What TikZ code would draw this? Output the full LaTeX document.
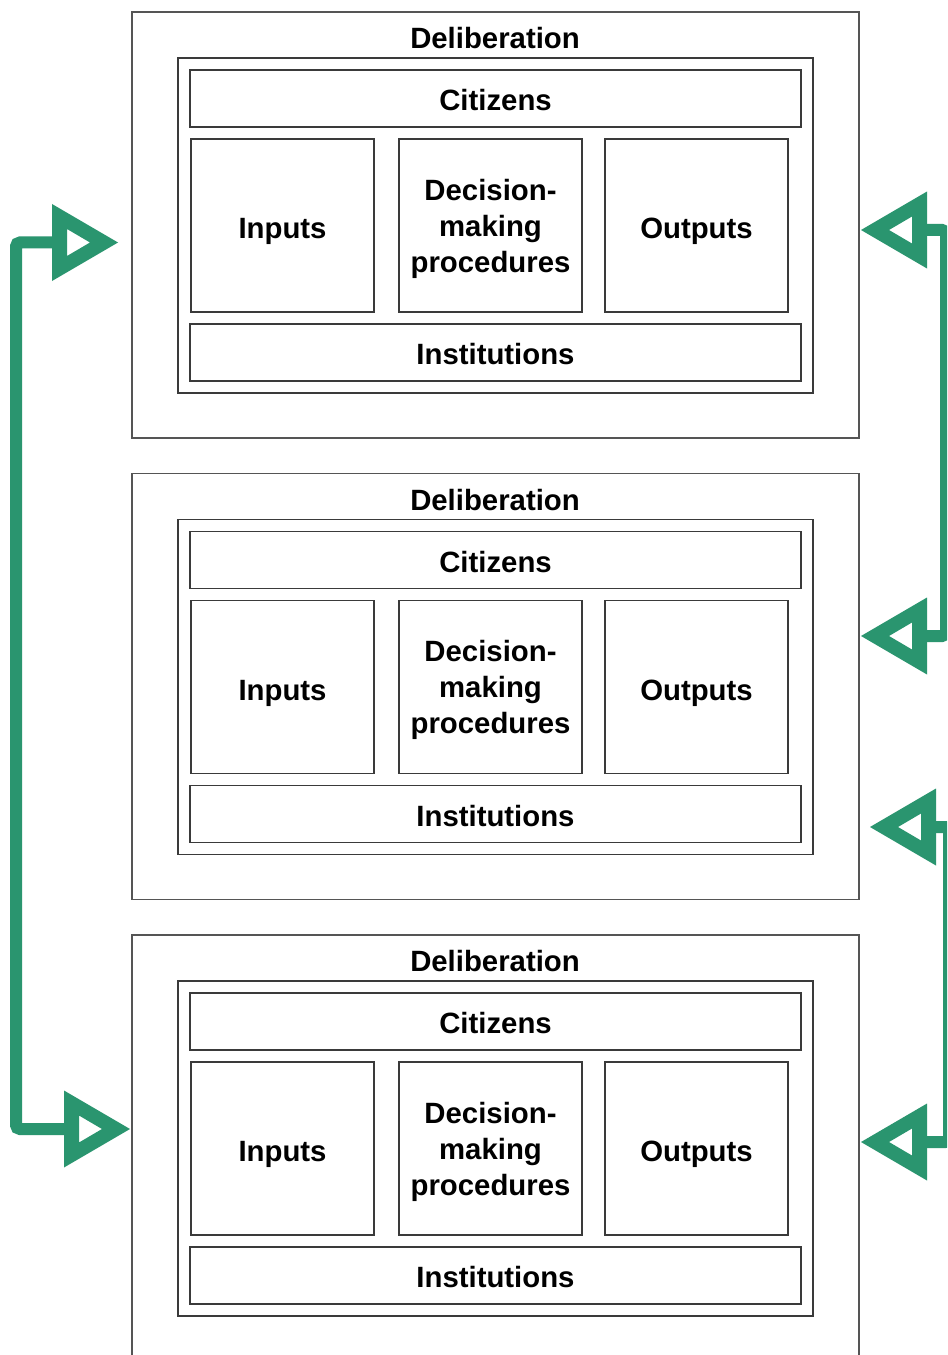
\documentclass[tikz,border=0pt]{standalone}
\usepackage{fontspec}
\setmainfont{Liberation Sans}
\usetikzlibrary{calc}
\definecolor{linkgreen}{RGB}{42,149,111}
\definecolor{boxline}{RGB}{58,58,58}
\definecolor{panelline}{RGB}{85,85,85}
\tikzset{
  txt/.style={inner sep=0pt, outer sep=0pt, align=center,
    font=\bfseries\fontsize{22}{27}\selectfont},
  label/.style={txt, text height=15.75pt, text depth=0pt},
  box/.style={draw=boxline, line width=1pt, inner sep=0pt, outer sep=0pt},
  panelbox/.style={draw=panelline, line width=0.9pt, inner sep=0pt, outer sep=0pt},
  link/.style={draw=linkgreen, line width=9pt, rounded corners=3pt},
  pics/openhead/.style={code={
    \fill[linkgreen, even odd rule]
      (0,0) -- (-66,-38.5) -- (-66,38.5) -- cycle
      (-28,0) -- (-51,-13.5) -- (-51,13.5) -- cycle;}},
}
% one deliberation panel: #1 name prefix, #2 vertical offset
\newcommand\delibpanel[2]{%
  \begin{scope}[shift={(0,#2)}]
    \node[panelbox, minimum width=727*0.75pt, minimum height=426*0.75pt] (#1out) at (495.5,225) {};
    \node[label] (#1title) at (495,38) {Deliberation};
    \node[box, minimum width=635*0.75pt, minimum height=335*0.75pt] (#1frame) at (495.5,225.5) {};
    \node[box, minimum width=611*0.75pt, minimum height=57*0.75pt] (#1cit) at (495.5,98.5) {};
    \node[box, minimum width=183*0.75pt, minimum height=173*0.75pt] (#1in) at (282.5,225.5) {};
    \node[box, minimum width=183*0.75pt, minimum height=173*0.75pt] (#1dec) at (490.5,225.5) {};
    \node[box, minimum width=183*0.75pt, minimum height=173*0.75pt] (#1outp) at (696.5,225.5) {};
    \node[box, minimum width=611*0.75pt, minimum height=57*0.75pt] (#1inst) at (495.5,352.5) {};
    \node[label] at ($(#1cit.center)+(0,1.5)$) {Citizens};
    \node[label] at ($(#1in.center)+(0,2.5)$) {Inputs};
    \node[txt] at ($(#1dec.center)+(0,3)$) {Decision-\\making\\procedures};
    \node[label] at ($(#1outp.center)+(0,2.5)$) {Outputs};
    \node[label] at ($(#1inst.center)+(0,1.5)$) {Institutions};
  \end{scope}}
\begin{document}
\begin{tikzpicture}[x=0.75pt, y=-0.75pt]
  \useasboundingbox (0,0) rectangle (947,1355);
  \clip (0,0) rectangle (947,1355);
  \fill[white] (0,0) rectangle (947,1355);

  \delibpanel{a}{0}
  \delibpanel{b}{461.5}
  \delibpanel{c}{923}

  % arrow tips
  \coordinate (tipA) at (118,242.5);
  \coordinate (tipC) at (130,1129);
  \coordinate (tipAr) at (861,230);
  \coordinate (tipBr) at (861,636);
  \coordinate (tipBr2) at (870,827);
  \coordinate (tipCr) at (861,1142);

  % left link between the first and the last panel
  \draw[link] ($(tipA)+(-60,0)$) -- (16,242.5) -- (16,1129) -- ($(tipC)+(-60,0)$);
  % right links
  \draw[link] ($(tipAr)+(60,0)$) -- (946,230) -- (946,636) -- ($(tipBr)+(60,0)$);
  \draw[link] ($(tipBr2)+(60,0)$) -- (949,827) -- (949,1142) -- ($(tipCr)+(60,0)$);

  \pic at (tipA) {openhead};
  \pic at (tipC) {openhead};
  \pic[xscale=-1] at (tipAr) {openhead};
  \pic[xscale=-1] at (tipBr) {openhead};
  \pic[xscale=-1] at (tipBr2) {openhead};
  \pic[xscale=-1] at (tipCr) {openhead};
\end{tikzpicture}
\end{document}
